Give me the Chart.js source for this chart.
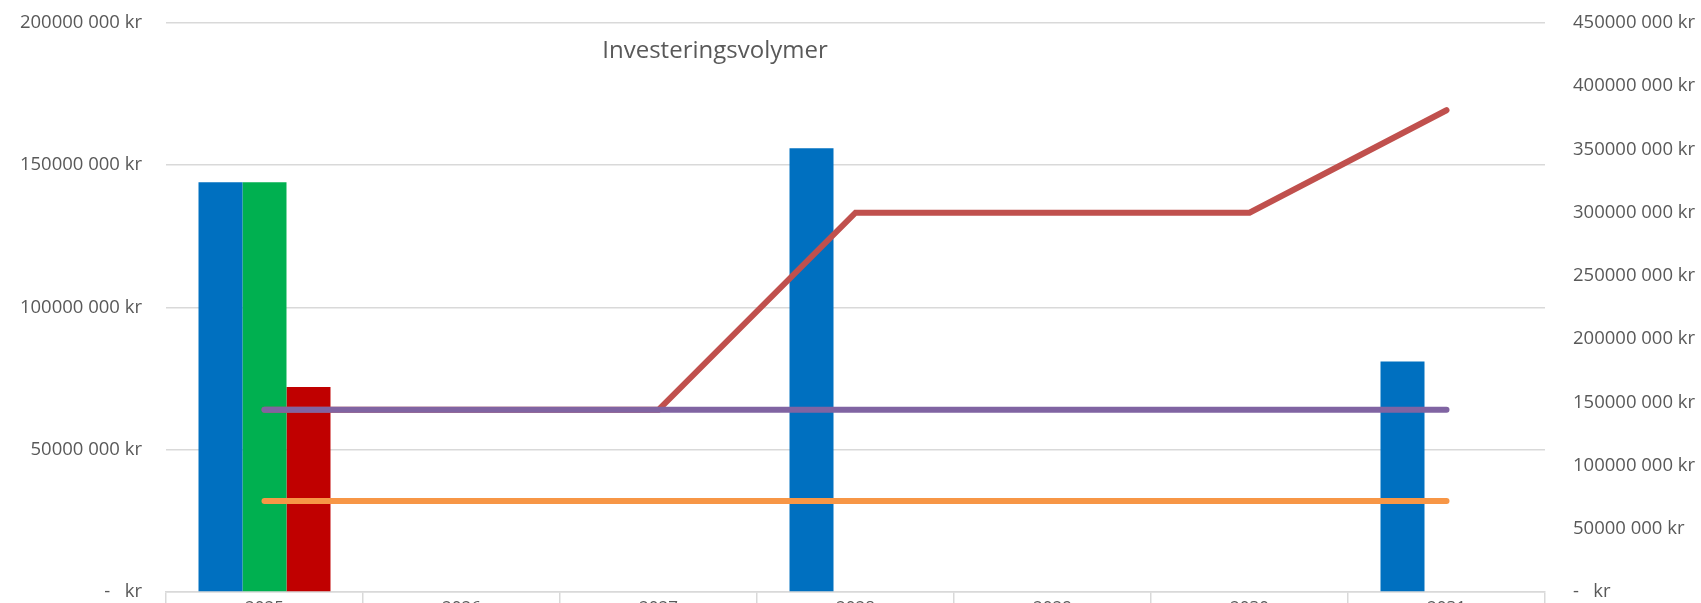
<!DOCTYPE html>
<html>
<head>
<meta charset="utf-8">
<script src="https://cdn.jsdelivr.net/npm/chart.js@4"></script>
<style>
  html, body { margin: 0; padding: 0; background: #fff; overflow: hidden; }
  canvas { display: block; }
</style>
</head>
<body>
<canvas id="invChart" width="1701" height="603"></canvas>
<script>
const years = ['2025', '2026', '2027', '2028', '2029', '2030', '2031'];

// staplar (vänster axel)
let blueBar  = [144000000, null, null, 156000000, null, null, 81000000];
let greenBar = [144000000, null, null, null, null, null, null];
let redBar   = [72000000, null, null, null, null, null, null];

// linjer (höger axel)
let redLine    = [144000000, 144000000, 144000000, 300000000, 300000000, 300000000, 381000000];
let purpleLine = [144000000, 144000000, 144000000, 144000000, 144000000, 144000000, 144000000];
let orangeLine = [72000000, 72000000, 72000000, 72000000, 72000000, 72000000, 72000000];

const titleText = 'Investeringsvolymer';
const grey = '#d9d9d9';
const txt = '#595959';
const fam = '"Open Sans", sans-serif';

function krLabel(v) {
    if (v === 0) return '-   kr';
    return (v / 1000000) + '000 000 kr';
}

// rubriken ligger inne i diagramytan
Chart.register({
    id: 'innerTitle',
    afterDraw: (chart) => {
        const c = chart.ctx;
        c.save();
        c.font = '24px ' + fam;
        c.fillStyle = txt;
        c.textAlign = 'center';
        c.textBaseline = 'middle';
        c.fillText(titleText, 715, 51);
        c.restore();
    }
});

const ctx = document.getElementById('invChart').getContext('2d');

const chart = new Chart(ctx, {
    type: 'bar',
    data: {
        labels: years,
        datasets: [{
            type: 'line',
            label: 'Lila',
            data: purpleLine,
            yAxisID: 'y2',
            borderColor: '#8064A2',
            borderWidth: 6,
            borderCapStyle: 'round',
            pointRadius: 0,
            tension: 0,
            order: 1
        },{
            type: 'line',
            label: 'Orange',
            data: orangeLine,
            yAxisID: 'y2',
            borderColor: '#F79646',
            borderWidth: 6,
            borderCapStyle: 'round',
            pointRadius: 0,
            tension: 0,
            order: 2
        },{
            type: 'line',
            label: 'Röd linje',
            data: redLine,
            yAxisID: 'y2',
            borderColor: '#C0504D',
            borderWidth: 6,
            borderCapStyle: 'round',
            borderJoinStyle: 'miter',
            pointRadius: 0,
            tension: 0,
            order: 3
        },{
            label: 'Blå',
            data: blueBar,
            yAxisID: 'y',
            backgroundColor: '#0070C0',
            order: 4
        },{
            label: 'Grön',
            data: greenBar,
            yAxisID: 'y',
            backgroundColor: '#00B050',
            order: 5
        },{
            label: 'Röd',
            data: redBar,
            yAxisID: 'y',
            backgroundColor: '#C00000',
            order: 6
        }]
    },
    options: {
        responsive: false,
        animation: false,
        events: [],
        layout: { autoPadding: false, padding: { top: 23, left: 0, right: 0, bottom: 0 } },
        datasets: {
            bar: { barPercentage: 1.0, categoryPercentage: 0.67, grouped: true, skipNull: false }
        },
        plugins: {
            legend: { display: false },
            tooltip: { enabled: false }
        },
        scales: {
            x: {
                offset: true,
                grid: { offset: true, drawOnChartArea: false, drawTicks: true, tickLength: 14, color: grey, lineWidth: 1.5 },
                border: { display: true, color: grey, width: 1.5 },
                ticks: { color: txt, font: { family: fam, size: 17 }, padding: -8, maxRotation: 0 },
                afterFit: (s) => { s.height = 11; }
            },
            y: {
                position: 'left',
                min: 0,
                max: 200000000,
                ticks: { stepSize: 50000000, color: txt, font: { family: fam, size: 18.5 }, padding: 0, callback: krLabel },
                grid: { color: grey, lineWidth: 1.5, drawTicks: true, tickLength: 24, tickColor: 'rgba(0,0,0,0)' },
                border: { display: false },
                afterFit: (s) => { s.width = 166; }
            },
            y2: {
                position: 'right',
                min: 0,
                max: 450000000,
                ticks: { stepSize: 50000000, color: txt, font: { family: fam, size: 18.5 }, padding: 0, callback: krLabel },
                grid: { drawOnChartArea: false, drawTicks: true, tickLength: 28, tickColor: 'rgba(0,0,0,0)' },
                border: { display: false },
                afterFit: (s) => { s.width = 156; }
            }
        }
    }
});
</script>
</body>
</html>
